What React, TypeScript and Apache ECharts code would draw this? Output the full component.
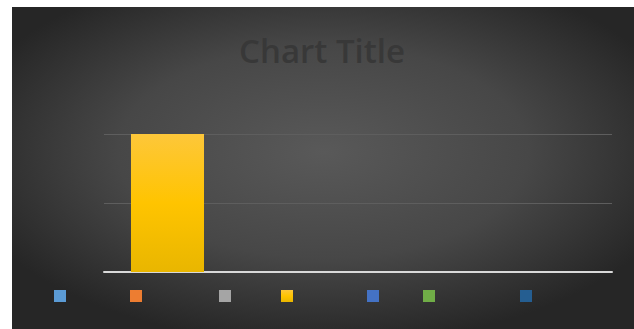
import React, { useEffect, useRef } from "react";
import * as echarts from "echarts";

const categories = ["1", "2", "3", "4"];
const seriesNames = ["Series1", "Series2", "Series3", "Series4", "Series5", "Series6", "Series7"];
const seriesColors = ["#5b9bd5", "#ed7d31", "#a5a5a5", "#ffc000", "#4472c4", "#70ad47", "#255e91"];
const seriesValues = [
  [0, 0, 0, 0],
  [0, 0, 0, 0],
  [0, 0, 0, 0],
  [2, 0, 0, 0],
  [0, 0, 0, 0],
  [0, 0, 0, 0],
  [0, 0, 0, 0],
];
const legendCenters = [60, 136, 225, 287, 373, 429, 526];

export default function App() {
  const ref = useRef<HTMLDivElement>(null);
  useEffect(() => {
    if (!ref.current) return;
    const chart = echarts.init(ref.current, null, { renderer: "svg" });
    const barFill = (c: string) =>
      c === "#ffc000"
        ? new echarts.graphic.LinearGradient(0, 0, 0, 1, [
            { offset: 0, color: "#fdc73a" },
            { offset: 0.5, color: "#ffc400" },
            { offset: 1, color: "#e9b600" },
          ])
        : c;
    chart.setOption({
      animation: false,
      backgroundColor: "#ffffff",
      graphic: [
        {
          type: "rect",
          z: -10,
          silent: true,
          shape: { x: 12, y: 7, width: 622, height: 322 },
          style: {
            fill: new echarts.graphic.RadialGradient(0.5, 0.45, 0.6, [
              { offset: 0, color: "#595959" },
              { offset: 0.55, color: "#474747" },
              { offset: 1, color: "#262626" },
            ]),
          },
        },
      ],
      title: {
        text: "Chart Title",
        left: 317,
        textAlign: "center",
        top: 29,
        textStyle: {
          fontFamily: "Open Sans",
          fontWeight: 600,
          fontSize: 33,
          color: "#383838",
        },
      },
      legend: seriesNames.map((n, i) => ({
        data: [n],
        left: legendCenters[i] - 6,
        top: 290,
        padding: 0,
        itemWidth: 12,
        itemHeight: 12,
        icon: "rect",
        selectedMode: false,
        formatter: () => "",
      })),
      grid: { left: 104, right: 22, top: 134, bottom: 57 },
      xAxis: {
        type: "category",
        data: categories,
        axisTick: { show: false },
        axisLabel: { show: false },
        axisLine: { lineStyle: { color: "#d9d9d9", width: 2 } },
      },
      yAxis: {
        type: "value",
        min: 0,
        max: 2,
        interval: 1,
        axisLabel: { show: false },
        axisLine: { show: false },
        axisTick: { show: false },
        splitLine: { lineStyle: { color: "#5e5e5e", width: 1 } },
      },
      series: seriesNames.map((n, i) => ({
        name: n,
        type: "bar",
        stack: "all",
        barWidth: "57.5%",
        data: seriesValues[i],
        itemStyle: { color: barFill(seriesColors[i]) },
      })),
    });
    return () => chart.dispose();
  }, []);
  return (
    <div
      ref={ref}
      style={{ position: "absolute", left: 0, top: 0, width: 634, height: 329 }}
    />
  );
}
